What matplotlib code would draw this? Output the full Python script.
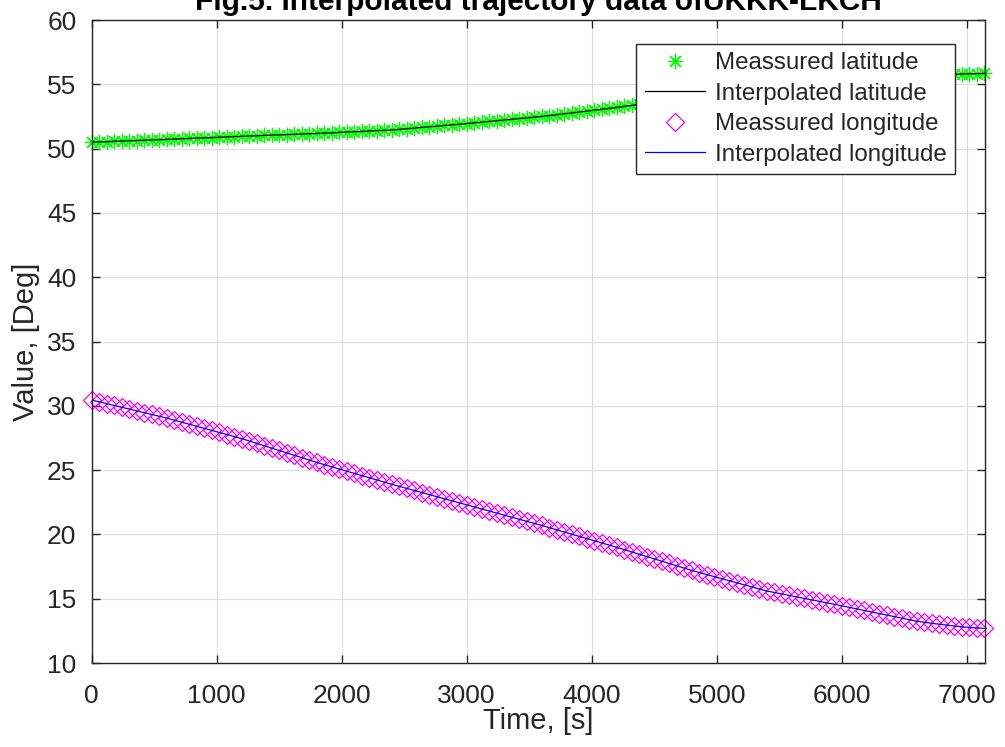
import matplotlib
matplotlib.use("Agg")
import matplotlib.pyplot as plt

plt.rcParams['font.family'] = ['Liberation Sans', 'DejaVu Sans']

# ---- data ----
t_meas = list(range(0, 7141, 60))   # measurement times, s

lat_meas = [
    50.50, 50.52, 50.54, 50.57, 50.59, 50.61, 50.63, 50.65, 50.68, 50.70,
    50.72, 50.74, 50.77, 50.79, 50.82, 50.84, 50.86, 50.89, 50.91, 50.94,
    50.96, 50.98, 51.00, 51.03, 51.05, 51.07, 51.09, 51.11, 51.14, 51.16,
    51.18, 51.21, 51.23, 51.26, 51.29, 51.32, 51.34, 51.37, 51.40, 51.42,
    51.45, 51.50, 51.55, 51.60, 51.65, 51.70, 51.75, 51.80, 51.85, 51.90,
    51.95, 52.01, 52.06, 52.12, 52.17, 52.23, 52.28, 52.34, 52.39, 52.45,
    52.50, 52.57, 52.64, 52.71, 52.78, 52.85, 52.92, 52.99, 53.06, 53.13,
    53.20, 53.28, 53.36, 53.44, 53.52, 53.60, 53.68, 53.76, 53.84, 53.92,
    54.00, 54.08, 54.16, 54.24, 54.32, 54.40, 54.48, 54.56, 54.64, 54.72,
    54.80, 54.86, 54.91, 54.97, 55.02, 55.08, 55.13, 55.19, 55.24, 55.30,
    55.35, 55.39, 55.42, 55.46, 55.49, 55.53, 55.56, 55.60, 55.63, 55.67,
    55.70, 55.72, 55.73, 55.75, 55.77, 55.78, 55.80, 55.82, 55.83, 55.85,
]

lon_meas = [
    30.45, 30.31, 30.17, 30.03, 29.89, 29.75, 29.61, 29.47, 29.33, 29.19,
    29.05, 28.89, 28.73, 28.57, 28.41, 28.25, 28.09, 27.93, 27.77, 27.61,
    27.45, 27.27, 27.08, 26.90, 26.71, 26.53, 26.34, 26.16, 25.97, 25.79,
    25.60, 25.43, 25.26, 25.09, 24.92, 24.75, 24.58, 24.41, 24.24, 24.07,
    23.90, 23.74, 23.58, 23.42, 23.26, 23.10, 22.94, 22.78, 22.62, 22.46,
    22.30, 22.14, 21.98, 21.82, 21.66, 21.50, 21.34, 21.18, 21.02, 20.86,
    20.70, 20.53, 20.36, 20.19, 20.02, 19.85, 19.68, 19.51, 19.34, 19.17,
    19.00, 18.82, 18.64, 18.46, 18.28, 18.10, 17.92, 17.74, 17.56, 17.38,
    17.20, 17.04, 16.88, 16.72, 16.56, 16.40, 16.24, 16.08, 15.92, 15.76,
    15.60, 15.49, 15.37, 15.26, 15.14, 15.03, 14.91, 14.80, 14.68, 14.57,
    14.45, 14.33, 14.21, 14.09, 13.97, 13.85, 13.73, 13.61, 13.49, 13.37,
    13.25, 13.17, 13.09, 13.02, 12.95, 12.88, 12.82, 12.77, 12.73, 12.70,
]

x_ticks = [0, 1000, 2000, 3000, 4000, 5000, 6000, 7000]
y_ticks = [10, 15, 20, 25, 30, 35, 40, 45, 50, 55, 60]
x_max = 7146

title_text = "Fig.5. Interpolated trajectory data ofUKKK-LKCH"
series_labels = ["Meassured latitude", "Interpolated latitude",
                 "Meassured longitude", "Interpolated longitude"]

# ---- figure ----
fig = plt.figure(figsize=(10.05, 7.47), dpi=100)
ax = fig.add_axes([0.0912, 0.1124, 0.8889, 0.8608])

dark = (0.15, 0.15, 0.15)

star = (8, 2, 0)
h1, = ax.plot(t_meas, lat_meas, linestyle='none', marker=star, markersize=11,
              markeredgecolor=(0, 1, 0), markeredgewidth=0.9, color=(0, 1, 0),
              clip_on=False)
h2, = ax.plot(t_meas, lat_meas, color='black', linewidth=0.9)
h3, = ax.plot(t_meas, lon_meas, linestyle='none', marker='D', markersize=9,
              markerfacecolor='none', markeredgecolor=(1, 0, 1),
              markeredgewidth=0.9, clip_on=False)
h4, = ax.plot(t_meas, lon_meas, color=(0, 0, 1), linewidth=0.9)

ax.set_xlim(0, x_max)
ax.set_ylim(10, 60)
ax.set_xticks(x_ticks)
ax.set_yticks(y_ticks)

ax.grid(True, color=(0.87, 0.87, 0.87), linewidth=0.8)
ax.set_axisbelow(True)

for s in ax.spines.values():
    s.set_color(dark)
    s.set_linewidth(1.0)

ax.tick_params(axis='both', direction='in', length=6, width=1.0,
               color=dark, labelcolor=dark, labelsize=19,
               top=True, right=True)
ax.tick_params(axis='x', pad=15)
ax.tick_params(axis='y', pad=11)

ax.set_xlabel("Time, [s]", fontsize=21, color=dark)
ax.set_ylabel("Value, [Deg]", fontsize=21, color=dark)
ax.xaxis.set_label_coords(0.5, -0.068)
ax.yaxis.set_label_coords(-0.058, 0.5)

fig.text(0.5352, 1 - 10 / 747, title_text, ha='center', va='baseline',
         fontsize=21.5, fontweight='bold', color='black')

leg = ax.legend([h1, h2, h3, h4], series_labels, loc='upper right',
                bbox_to_anchor=(0.9664, 0.9627), borderaxespad=0,
                fontsize=17.4, handlelength=2.5, handletextpad=0.4,
                labelspacing=0.35, borderpad=0.35, fancybox=False,
                framealpha=1, edgecolor=dark)
leg.get_frame().set_linewidth(1.0)
for txt in leg.get_texts():
    txt.set_color(dark)

fig.savefig("out.png", dpi=100)
